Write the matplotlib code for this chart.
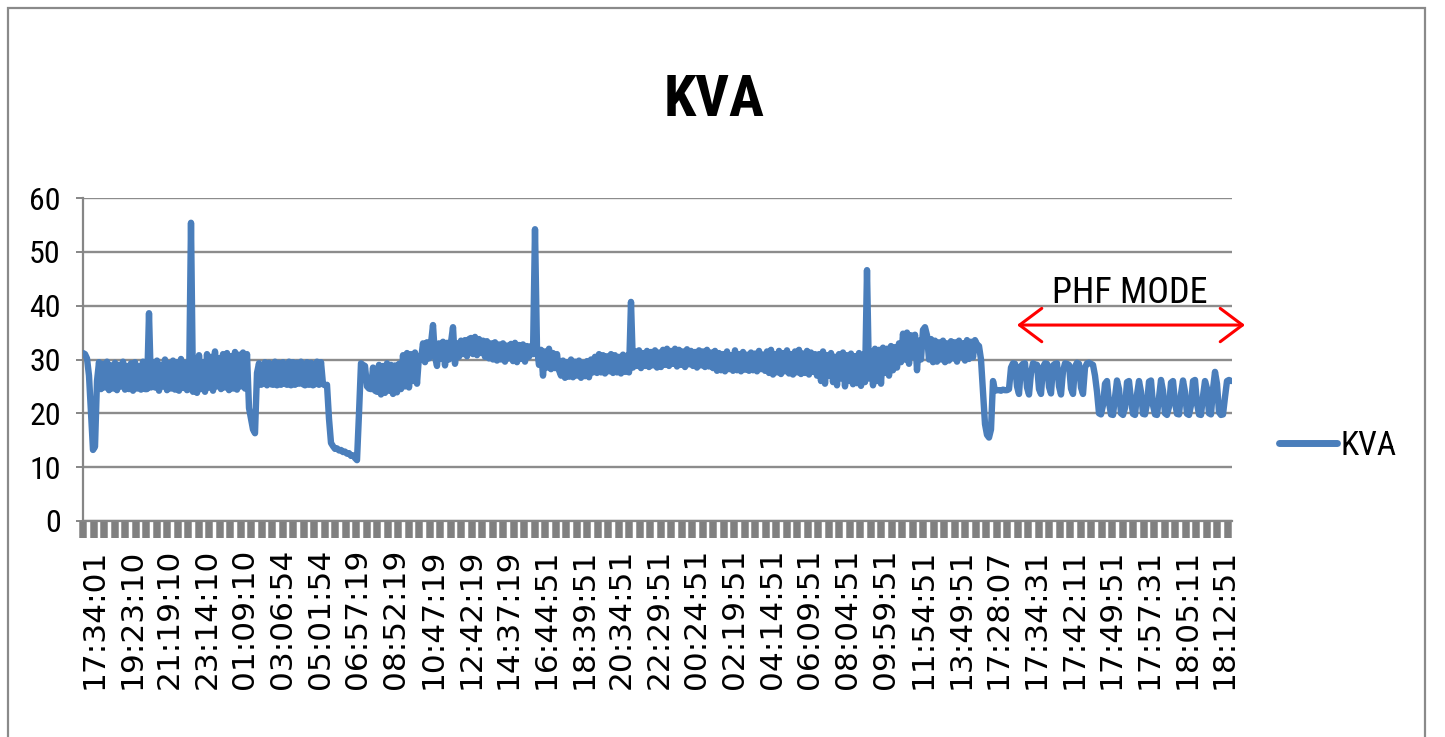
import numpy as np
import matplotlib
matplotlib.use("Agg")
import matplotlib.pyplot as plt
from matplotlib import font_manager as fm
from matplotlib.patches import Rectangle, ArrowStyle

# ---- data -----------------------------------------------------------------
time_labels = [
    "17:34:01", "19:23:10", "21:19:10", "23:14:10", "01:09:10", "03:06:54",
    "05:01:54", "06:57:19", "08:52:19", "10:47:19", "12:42:19", "14:37:19",
    "16:44:51", "18:39:51", "20:34:51", "22:29:51", "00:24:51", "02:19:51",
    "04:14:51", "06:09:51", "08:04:51", "09:59:51", "11:54:51", "13:49:51",
    "17:28:07", "17:34:31", "17:42:11", "17:49:51", "17:57:31", "18:05:11",
    "18:12:51",
]
y_ticks = [0, 10, 20, 30, 40, 50, 60]

# normal operation (kVA readings)
kva_normal = [
    31.2, 31.0, 30.2, 27.0,
    20.0, 13.2, 13.8, 26.0,
    29.5, 24.5, 29.2, 24.8, 29.6, 24.3, 28.9, 24.6, 29.4, 24.3, 29.0, 25.0,
    29.6, 24.4, 28.8, 24.5, 29.3, 24.2, 29.5, 24.6, 28.7, 24.4, 29.6, 24.5,
    24.5, 38.6, 24.8,
    29.5, 24.8, 29.8, 24.2, 29.0, 25.0, 30.0, 24.3, 29.3, 24.6, 29.8, 24.4,
    29.5, 24.2, 30.1, 24.7, 29.4, 24.3,
    24.5, 55.4, 24.0,
    30.2, 23.8, 30.8, 24.5, 29.5, 24.0, 31.0, 24.8, 30.5, 24.2, 31.5, 25.0,
    30.2, 24.5, 31.0, 24.8, 31.2, 24.3, 30.6, 24.6, 31.4, 24.4, 30.9, 25.0,
    31.3, 24.6,
    31.0, 21.0, 19.0, 17.0, 16.3, 27.5,
    29.3, 25.3, 25.5, 29.5, 25.2, 29.4, 25.4, 25.3, 29.6, 25.2, 29.4, 25.3,
    29.5, 25.5, 25.3, 29.6, 25.2, 29.5, 25.3, 29.4, 25.5, 29.6, 25.4, 25.2,
    29.5, 25.3, 29.4, 25.2, 25.4, 29.6, 25.3, 29.5, 25.4, 25.2, 25.3,
    19.0, 14.5, 13.9, 13.4, 13.5, 13.1, 13.2, 12.8, 12.9, 12.5, 12.6, 12.1,
    12.2, 11.7, 11.3, 20.0,
    29.3, 29.0, 28.8,
    25.0, 24.6, 24.5, 28.5, 24.2, 24.0,
    29.0, 23.5, 28.8, 23.8, 29.3, 24.2, 29.0, 23.6, 28.9, 23.9, 29.2,
    24.5, 30.8, 25.0, 31.2, 24.8, 31.0, 26.0, 31.3, 25.5, 30.6,
    30.0, 33.0, 29.5, 33.2, 30.2, 33.0, 36.4, 30.5, 28.8, 33.0, 30.2, 33.3,
    28.9, 33.1, 30.0, 33.2, 36.0, 29.2, 33.0, 30.5, 33.5, 31.0, 33.6, 30.6,
    33.8,
    34.0, 31.0, 34.2, 30.8, 33.8, 31.2, 33.5, 30.5, 33.4, 30.2, 33.0, 30.0,
    33.2, 29.8, 32.8, 30.0, 33.0, 29.6, 32.6, 30.2, 32.9, 29.7, 33.1, 29.5,
    32.7, 30.1, 32.8, 29.6, 32.5,
    30.5, 32.5, 31.0, 54.2, 32.0,
    29.0, 31.8, 27.0, 31.5, 28.5, 32.0, 28.2, 31.2, 28.4, 31.0, 28.0,
    27.0, 29.8, 26.6, 29.5, 26.8, 30.0, 26.7, 29.6, 27.0, 29.8, 26.6, 29.4,
    26.9, 29.7, 26.7, 30.0,
    27.6, 30.5, 27.5, 31.0, 27.6, 30.8, 27.4, 30.6, 27.8, 31.0, 27.5, 30.8,
    27.6, 30.5, 27.4, 30.9, 27.7, 30.7, 27.6,
    40.7,
    28.5, 31.5, 28.8, 31.7, 28.4, 31.2, 28.8, 31.6, 28.6, 31.4, 28.9, 31.7,
    28.5, 31.3,
    28.6, 31.8, 29.0, 32.0, 28.8, 31.6, 29.2, 32.0, 28.7, 31.8, 29.0, 31.5,
    28.6, 31.9, 29.1, 31.6, 28.8, 31.4, 28.5, 31.7, 28.9, 31.5, 28.6, 31.8,
    28.7, 31.3, 28.4, 31.6,
    27.9, 31.2, 28.0, 31.0, 27.8, 31.5, 28.2, 30.8, 27.9, 31.7, 28.0, 31.0,
    27.8, 31.4, 28.1, 30.9, 27.9, 31.3, 28.0, 31.1, 27.8, 31.6, 28.2, 30.9,
    27.9,
    31.5, 27.5, 31.8, 27.2, 31.0, 27.6, 31.6, 27.3, 31.2, 27.8, 31.7, 27.4,
    31.0, 27.2, 31.5, 27.6, 31.8, 27.3, 31.1, 27.5, 31.6, 27.2, 31.3, 27.7,
    31.0,
    27.0, 31.0, 26.0, 31.5, 25.5, 30.8, 27.0, 31.2, 25.8, 30.5, 25.2, 31.0,
    26.5, 31.3, 25.0, 30.8, 26.0, 31.1, 25.4, 30.6, 25.6, 31.2, 25.1, 30.9,
    25.8,
    46.6,
    26.5, 31.5, 25.2, 32.0, 26.0, 31.8, 25.5, 32.2, 27.5, 32.0, 27.0, 32.5,
    28.0, 32.3, 28.5, 33.0,
    29.5, 34.8, 30.0, 35.0, 29.2, 34.5, 30.5, 34.6, 28.0, 33.5, 30.0, 35.5,
    36.0, 34.5, 30.0, 33.8, 29.5, 33.5,
    29.6, 33.2, 30.0, 33.5, 29.5, 33.0, 29.8, 33.4, 30.2, 33.2, 29.6, 33.5,
    30.5, 33.0, 29.8, 33.6, 30.1, 33.3, 30.4, 33.6, 32.8, 32.5,
    30.0, 24.0, 18.0, 16.0, 15.5, 17.0, 26.0,
    24.2, 24.3, 24.3, 24.2, 24.4, 24.3, 24.3, 24.5,
]

# PHF mode operation (kVA readings)
kva_phf = [
    28.5, 29.3, 29.2, 25.0, 23.6,
    28.8, 29.2, 29.3, 24.8, 23.5,
    27.5, 29.3, 29.1, 29.0, 24.5, 23.6,
    28.6, 29.3, 29.2, 24.9, 23.7,
    28.9, 29.2, 29.3, 25.0, 23.5,
    27.8, 29.3, 29.2, 29.0, 24.6, 23.6,
    28.7, 29.4, 29.2, 24.8, 23.6,
    28.5, 29.3, 29.4, 29.2, 29.0, 27.0,
    24.0, 20.0, 19.8,
    21.5, 25.5, 26.0, 22.0, 19.8, 19.7,
    23.0, 26.1, 24.5, 20.0, 19.7,
    21.0, 25.8, 26.0, 22.5, 19.9, 19.7,
    23.5, 26.0, 24.0, 19.9, 19.8,
    21.8, 25.9, 26.1, 21.5, 19.8, 19.7,
    23.0, 26.2, 24.2, 20.0, 19.7,
    21.2, 25.7, 26.0, 22.0, 19.9, 19.8,
    23.6, 26.1, 24.0, 19.9, 19.7,
    21.5, 26.0, 26.2, 21.8, 19.8, 19.7,
    23.2, 26.0, 24.6, 20.0, 19.8,
    24.5, 27.7, 25.5, 20.2, 19.7,
    19.8, 23.0, 26.0, 26.2, 26.0,
]

kva = kva_normal + kva_phf
x = np.arange(len(kva))


# ---- fonts ----------------------------------------------------------------
def pick_narrow_family():
    fonts = fm.fontManager.ttflist
    names = {f.name for f in fonts}
    for cand in ("Liberation Sans Narrow", "Arial Narrow", "Roboto Condensed",
                 "Open Sans Condensed", "DejaVu Sans Condensed"):
        if cand in names:
            return [cand, "DejaVu Sans"], "normal"
    for f in fonts:
        if f.name == "DejaVu Sans" and f.stretch in ("condensed", 300):
            return ["DejaVu Sans"], "condensed"
    for cand in ("Roboto", "Lato", "Open Sans"):
        if cand in names:
            return [cand, "DejaVu Sans"], "normal"
    return ["DejaVu Sans"], "normal"


NARROW, NARROW_STRETCH = pick_narrow_family()

# ---- style ----------------------------------------------------------------
LINE_BLUE = "#4a7ebb"
GRID_GREY = "#8c8c8c"
AXIS_GREY = "#868686"

fig = plt.figure(figsize=(14.45, 7.37), dpi=100)
fig.patch.set_facecolor("white")

ax = fig.add_axes([83 / 1445, (737 - 521) / 737, 1149 / 1445, 323 / 737])

line, = ax.plot(x, kva, color=LINE_BLUE, lw=4.6, solid_joinstyle="round",
                solid_capstyle="round", label="KVA", zorder=3)

ax.set_xlim(0, len(kva) - 0.5)
ax.set_ylim(0, 60)

# horizontal gridlines
ax.set_yticks(y_ticks)
ax.yaxis.grid(True, color=GRID_GREY, lw=1.7, zorder=0)
ax.set_axisbelow(True)
ax.tick_params(axis="y", which="major", direction="out", length=5, width=1.4,
               color=AXIS_GREY, pad=11, labelsize=23)
for lab in ax.get_yticklabels():
    lab.set_family(NARROW)
    lab.set_stretch(NARROW_STRETCH)

# category labels along the time axis
label_start, label_step = 5.5, 18.84
label_pos = label_start + label_step * np.arange(len(time_labels))
ax.set_xticks(label_pos)
ax.set_xticklabels(time_labels, rotation=90, fontsize=22.5,
                   family="DejaVu Sans")
ax.tick_params(axis="x", which="major", length=0, pad=20)

# dense category tick marks below the axis
ax.xaxis.remove_overlapping_locs = False
ax.set_xticks(np.arange(0, len(kva), 5.25), minor=True)
ax.tick_params(axis="x", which="minor", direction="out", length=12.5,
               width=5.4, color="#808080")

for side in ("top", "right"):
    ax.spines[side].set_visible(False)
ax.spines["left"].set_color(AXIS_GREY)
ax.spines["left"].set_linewidth(1.6)
ax.spines["bottom"].set_color(AXIS_GREY)
ax.spines["bottom"].set_linewidth(1.6)

# title
fig.text(0.494, 0.864, "KVA", ha="center", va="center", fontsize=42,
         fontweight="bold", family=NARROW, stretch=NARROW_STRETCH)

# PHF mode annotation
ax.text(523.5, 40.5, "PHF MODE", ha="center", va="baseline", fontsize=26,
        family=NARROW, stretch=NARROW_STRETCH, clip_on=False)
ax.annotate("", xy=(581, 36.4), xytext=(467, 36.4),
            xycoords="data", textcoords="data", annotation_clip=False,
            arrowprops=dict(arrowstyle=ArrowStyle("<->", head_length=1.6,
                                                  head_width=1.2),
                            mutation_scale=10, color="#ff0000", lw=2.2,
                            shrinkA=0, shrinkB=0))

# legend
leg = fig.legend(handles=[line], loc="center left",
                 bbox_to_anchor=(1279 / 1445, (737 - 446) / 737),
                 frameon=False, borderpad=0, borderaxespad=0,
                 handlelength=1.75, handletextpad=0.1,
                 prop={"family": NARROW, "stretch": NARROW_STRETCH,
                       "size": 24})
for h in leg.legend_handles:
    h.set_linewidth(5.0)

# chart area border
fig.add_artist(Rectangle((8 / 1445, -0.05), 1417 / 1445, (737 - 8) / 737 + 0.05,
                         transform=fig.transFigure, fill=False,
                         edgecolor="#8a8a8a", lw=1.6))

fig.savefig("out.png", dpi=100, facecolor="white")
